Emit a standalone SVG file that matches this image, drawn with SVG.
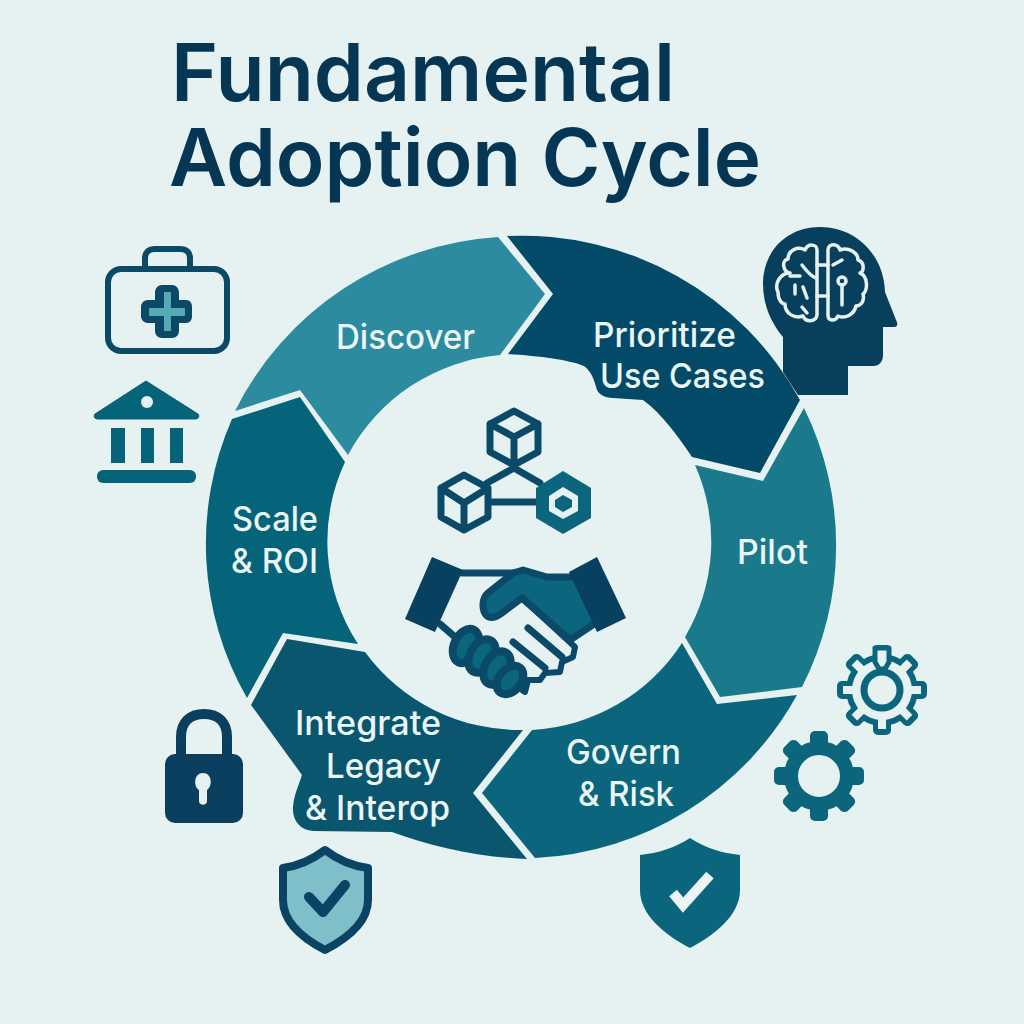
<svg xmlns="http://www.w3.org/2000/svg" width="1024" height="1024" viewBox="0 0 1024 1024">
<style>
.t{font-family:"Inter","Noto Sans",sans-serif;font-weight:600;fill:#053654;font-size:80px}
.l{font-family:"Inter","Noto Sans",sans-serif;font-weight:500;fill:#EAF5F4;font-size:34px}
.o{fill:none;stroke:#0A4A68;stroke-width:7;stroke-linejoin:round;stroke-linecap:round}
.b{fill:none;stroke:#E6F2F1;stroke-width:3.5;stroke-linejoin:round;stroke-linecap:round}
</style>
<defs>
<g id="tooth"><rect x="-9" y="-45" width="18" height="16" rx="5"/></g>
<g id="teeth"><use href="#tooth"/><use href="#tooth" transform="rotate(45)"/><use href="#tooth" transform="rotate(90)"/><use href="#tooth" transform="rotate(135)"/><use href="#tooth" transform="rotate(180)"/><use href="#tooth" transform="rotate(225)"/><use href="#tooth" transform="rotate(270)"/><use href="#tooth" transform="rotate(315)"/></g>
<g id="slot"><rect x="-4" y="-39" width="8" height="12"/></g>
<g id="slots"><use href="#slot" transform="rotate(45)"/><use href="#slot" transform="rotate(90)"/><use href="#slot" transform="rotate(135)"/><use href="#slot" transform="rotate(180)"/><use href="#slot" transform="rotate(225)"/><use href="#slot" transform="rotate(270)"/><use href="#slot" transform="rotate(315)"/></g>
</defs>
<rect width="1024" height="1024" fill="#E6F2F1"/>
<g id="title">
<text class="t" x="171" y="101" textLength="504" lengthAdjust="spacingAndGlyphs">Fundamental</text>
<text class="t" x="169" y="186" textLength="592" lengthAdjust="spacingAndGlyphs">Adoption Cycle</text>
</g>
<g id="icon-brain">
<path fill="#073F5C" d="M820 227C786 227 763 252 763 284C763 306 772 324 783 337L783 372L798 395L848 395L848 366L873 366C880 366 883 361 883 355L883 327L894 327C898 327 898 323 896 320L885 292C884 255 856 227 820 227Z"/>
<path class="b" d="M817 250C817 244 808 243 805 250C798 246 788 250 788 259C781 260 783 272 790 273C780 273 774 284 778 292C778 300 782 304 785 304C785 314 795 319 803 316C806 323 816 322 817 315Z"/>
<path class="b" d="M828 250C828 243 838 243 840 250C848 247 858 252 858 260C865 262 864 272 860 273C868 276 868 290 863 294C865 302 860 306 856 306C854 315 845 319 838 316C835 322 828 321 828 315Z"/>
<path class="b" d="M817 265H828M817 296H828M795 285V294M803 287L807 298M802 307L807 313M802 265C806 270 810 276 816 278M790 276L800 276M833 265L842 260M842 285V305"/>
<circle class="b" cx="842" cy="281" r="4"/>
</g>
<g id="seg-discover"><path fill="#2C8B9E" d="M235 411A316 313 0 0 1 498 237L545 294L500 355A191 189 0 0 0 348 455L300 390Z"/><text class="l" x="336" y="349" textLength="139" lengthAdjust="spacingAndGlyphs">Discover</text></g>
<g id="seg-prioritize"><path fill="#034A68" d="M507 236A316 313 0 0 1 800 400L760 473L692 457C678 436 662 414 643 400L613 398C604 398 599 394 597 390C594 380 592 372 584 366C570 360 540 356 508 354L553 294Z"/><text class="l" x="593" y="347" textLength="143" lengthAdjust="spacingAndGlyphs">Prioritize</text><text class="l" x="600" y="388" textLength="165" lengthAdjust="spacingAndGlyphs">Use Cases</text></g>
<g id="seg-pilot"><path fill="#1A7A8C" d="M804 408A316 313 0 0 1 802 687L720 697L685 637A191 189 0 0 0 695 465L763 481Z"/><text class="l" x="737" y="564" textLength="71" lengthAdjust="spacingAndGlyphs">Pilot</text></g>
<g id="seg-govern"><path fill="#0B667D" d="M797 695A316 313 0 0 1 535 858L482 793L532 730A191 189 0 0 0 682 643L717 704Z"/><text class="l" x="566" y="764" textLength="115" lengthAdjust="spacingAndGlyphs">Govern</text><text class="l" x="578" y="806" textLength="96" lengthAdjust="spacingAndGlyphs">&amp; Risk</text></g>
<g id="seg-integrate"><path fill="#0A566F" d="M287 639L365 652A191 189 0 0 0 523 730L473 793L527 859C475 857 430 846 392 832L313 831C300 830 292 820 293 807C294 795 298 787 302 775L251 705Z"/><text class="l" x="295" y="735" textLength="146" lengthAdjust="spacingAndGlyphs">Integrate</text><text class="l" x="326" y="778" textLength="115" lengthAdjust="spacingAndGlyphs">Legacy</text><text class="l" x="305" y="820" textLength="145" lengthAdjust="spacingAndGlyphs">&amp; Interop</text></g>
<g id="seg-scale"><path fill="#05637A" d="M232 419L300 397L345 462A191 189 0 0 0 358 644L283 633L247 698A316 313 0 0 1 232 419Z"/><text class="l" x="232" y="531" textLength="86" lengthAdjust="spacingAndGlyphs">Scale</text><text class="l" x="231" y="573" textLength="87" lengthAdjust="spacingAndGlyphs">&amp; ROI</text></g>
<g id="icon-network">
<path class="o" stroke-width="6" d="M514 468L487 483M514 468L540 483M492 502H537"/>
<path class="o" d="M514 411L538 424V452L514 465L490 452V424ZM490 424L514 437L538 424M514 437V465"/>
<path class="o" d="M464 475L488 488V517L464 530L441 517V488ZM441 488L464 503L488 488M464 503V530"/>
<path fill="#0B667D" d="M563 471L591 488V518L563 534L536 518V488Z"/>
<path fill="#E6F2F1" d="M563 487L578 496V511L563 519L549 511V496Z"/>
<path fill="#0B667D" d="M563 495L572 500V507L563 512L555 507V500Z"/>
</g>
<g id="icon-handshake">
<path class="o" stroke-width="5" d="M462 573H515M440 624L455 637"/>
<path fill="none" stroke="#0A4A68" stroke-width="6" stroke-linejoin="round" stroke-linecap="round" d="M522 598L575 647L573 657L562 662L560 672L545 673L540 680L528 680L525 692L518 687"/>
<path fill="#0B667D" stroke="#0A4A68" stroke-width="7" stroke-linejoin="round" d="M575 577L547 577L523 570L513 573L488 593C482 598 481 610 487 616C492 620 498 616 502 613L522 598L570 640L597 622Z"/>
<path class="o" stroke-width="6" d="M528 628L562 657M513 642L545 668"/>
<g fill="#0B667D" stroke="#0A4A68" stroke-width="8">
<ellipse cx="466" cy="646" rx="12" ry="18" transform="rotate(25 466 646)"/>
<ellipse cx="482" cy="656" rx="12" ry="18" transform="rotate(30 482 656)"/>
<ellipse cx="497" cy="668" rx="12" ry="18" transform="rotate(30 497 668)"/>
<ellipse cx="510" cy="680" rx="11" ry="16" transform="rotate(40 510 680)"/>
</g>
<path fill="#08405F" d="M432 557L463 570L435 632L405 619Z"/>
<path fill="#08405F" d="M597 557L569 572L597 632L626 618Z"/>
</g>
<g id="icon-medkit">
<rect x="108" y="269" width="119" height="82" rx="13" fill="none" stroke="#0A4A68" stroke-width="6"/>
<path d="M145 268V258C145 252 149 249 155 249H180C186 249 190 252 190 258V268" fill="none" stroke="#0A4A68" stroke-width="6"/>
<path d="M155 300V293C155 288 158 285 162 285H172C176 285 179 288 179 293V300H186C190 300 192 303 192 307V316C192 320 190 323 186 323H179V331C179 335 176 338 172 338H162C158 338 155 335 155 331V323H148C144 323 141 320 141 316V307C141 303 144 300 148 300Z" fill="#0A4A68"/>
<path d="M164 292H171V308H185V316H171V331H164V316H149V308H164Z" fill="#56A9B5"/>
</g>
<g id="icon-bank" fill="#05637A">
<path d="M146 381L198 414C200 417 198 419 195 419H98C95 419 93 417 95 414Z" stroke="#05637A" stroke-width="1" stroke-linejoin="round"/>
<circle cx="147" cy="402" r="6" fill="#E6F2F1"/>
<rect x="111" y="428" width="14" height="35"/><rect x="141" y="428" width="13" height="35"/><rect x="170" y="428" width="13" height="35"/>
<rect x="97" y="470" width="99" height="13" rx="6"/>
</g>
<g id="icon-lock" fill="#0A3F5F">
<path d="M181 756V737C181 722 190 714 204 714C218 714 227 722 227 737V756" fill="none" stroke="#0A3F5F" stroke-width="10"/>
<rect x="165" y="754" width="78" height="69" rx="10"/>
<path d="M199 790C193 786 194 773 203 773C212 773 213 786 207 790V801C207 806 199 806 199 801Z" fill="#E6F2F1"/>
</g>
<g id="icon-shield-light">
<path d="M325 850C312 860 298 866 283 868V900C283 922 302 938 325 950C348 938 368 922 368 900V868C352 866 338 860 325 850Z" fill="#7FBFCA" stroke="#0A4363" stroke-width="8" stroke-linejoin="round"/>
<path d="M309 897L323 912L345 885" fill="none" stroke="#0A4363" stroke-width="10" stroke-linecap="round" stroke-linejoin="round"/>
</g>
<g id="icon-shield-dark">
<path d="M690 838C675 848 658 853 640 855V890C640 915 665 935 690 948C715 935 740 915 740 890V855C722 853 705 848 690 838Z" fill="#0B667D"/>
<path d="M673 893L683 905L710 875" fill="none" stroke="#EAF5F4" stroke-width="10"/>
</g>
<g id="icon-gear-outline">
<g transform="translate(882 690)" fill="#0B667D"><circle r="36"/><use href="#teeth"/></g>
<g transform="translate(882 690)" fill="#E6F2F1"><circle r="30"/><use href="#slots"/></g>
<circle cx="882" cy="690" r="18" fill="none" stroke="#0B667D" stroke-width="7"/>
<path d="M875 648H889V662L885 669H879L875 662Z" fill="#E6F2F1" stroke="#0B667D" stroke-width="5" stroke-linejoin="round"/>
</g>
<g id="icon-gear-solid">
<g transform="translate(819 776)" fill="#0B667D"><circle r="28" fill="none" stroke="#0B667D" stroke-width="14"/><use href="#teeth"/></g>
</g>
</svg>
